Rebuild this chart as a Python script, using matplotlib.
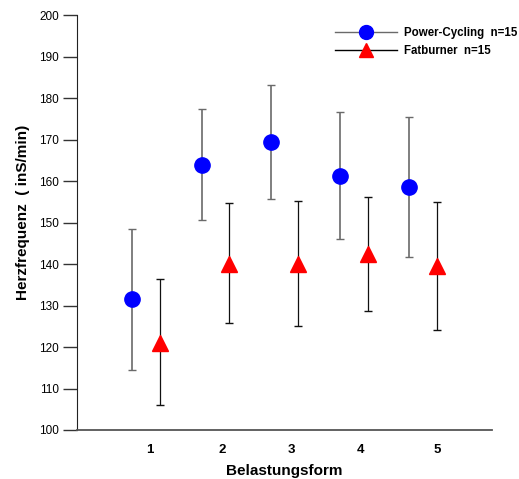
import matplotlib
matplotlib.use('Agg')
import matplotlib.pyplot as plt
import numpy as np

plt.rcParams['font.family'] = ['Liberation Sans', 'DejaVu Sans']

forms = [1, 2, 3, 4, 5]
form_labels = ['1', '2', '3', '4', '5']
label_pos = [1.055, 2.105, 3.105, 4.10, 5.205]

# Power-Cycling: mean with lower / upper ends of the error bars
pc_mean = [131.5, 163.9, 169.4, 161.3, 158.6]
pc_low = [114.5, 150.5, 155.7, 146.0, 141.8]
pc_high = [148.5, 177.3, 183.1, 176.6, 175.5]

# Fatburner
fb_mean = [120.9, 140.0, 140.1, 142.4, 139.5]
fb_low = [106.0, 125.9, 125.1, 128.6, 124.1]
fb_high = [136.3, 154.6, 155.1, 156.2, 155.0]

x = np.array(forms, dtype=float)
pc_mean = np.array(pc_mean); fb_mean = np.array(fb_mean)
pc_err = [pc_mean - np.array(pc_low), np.array(pc_high) - pc_mean]
fb_err = [fb_mean - np.array(fb_low), np.array(fb_high) - fb_mean]

fig = plt.figure(figsize=(5.19, 4.79), dpi=100)
ax = fig.add_axes([77/519, 1 - 430/479, 415/519, 415/479])

ax.errorbar(x - 0.2, pc_mean, yerr=pc_err, fmt='none', ecolor='#6a6a6a',
            elinewidth=1.2, capsize=2.8, capthick=1.0, zorder=2)
ax.errorbar(x + 0.2, fb_mean, yerr=fb_err, fmt='none', ecolor='#111111',
            elinewidth=0.9, capsize=2.8, capthick=1.0, zorder=2)
ax.plot(x - 0.2, pc_mean, 'o', color='#0000ff', ms=11, mec='#0000ff', zorder=3)
ax.plot(x + 0.2, fb_mean, '^', color='#ff0000', ms=11, mec='#ff0000', zorder=3)

# legend entries drawn as line + marker
h1, = ax.plot([], [], '-o', color='#6a6a6a', mfc='#0000ff', mec='#0000ff', ms=10, lw=1)
h2, = ax.plot([], [], '-^', color='black', mfc='#ff0000', mec='#ff0000', ms=10, lw=1)
leg = ax.legend([h1, h2], ['Power-Cycling  n=15', 'Fatburner  n=15'],
                loc='upper left', bbox_to_anchor=(0.6, 0.993), frameon=False,
                handlelength=5.4, handletextpad=0.55, labelspacing=0.55,
                borderpad=0.3, prop={'weight': 'bold', 'size': 8.3})

ax.set_xlim(0, 6)
ax.set_ylim(100, 200)
ax.set_yticks(np.arange(100, 201, 10))
ax.set_xticks(label_pos)
ax.set_xticklabels(form_labels, fontweight='bold', fontsize=9.5)
ax.tick_params(axis='x', length=0, pad=10)
ax.tick_params(axis='y', length=10, width=1, labelsize=8.5, pad=3, color='#333333')

for s in ['top', 'right']:
    ax.spines[s].set_visible(False)
ax.spines['left'].set_color('#222222')
ax.spines['bottom'].set_color('#555555')
ax.spines['bottom'].set_linewidth(1.3)

ax.set_xlabel('Belastungsform', fontweight='bold', fontsize=11, labelpad=6)
ax.set_ylabel('Herzfrequenz  ( inS/min)', fontweight='bold', fontsize=11)
ax.yaxis.set_label_coords(-0.114, 0.525)

plt.savefig('out.png', dpi=100)
